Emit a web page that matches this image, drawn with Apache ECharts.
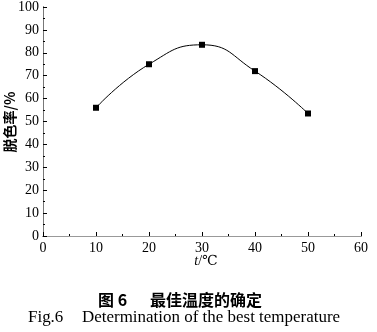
<!DOCTYPE html>
<html>
<head>
<meta charset="utf-8">
<script src="https://cdn.jsdelivr.net/npm/echarts@6/dist/echarts.min.js"></script>
<style>
html,body{margin:0;padding:0;background:#fff;}
#chart{width:377px;height:332px;}
</style>
</head>
<body>
<div id="chart"></div>
<script>
// Temperature (°C) and decolorization rate (%)
const temperatures = [10, 20, 30, 40, 50];
const decolorRates = [56, 75, 83.5, 72, 53.5];
const xTicks = [0, 10, 20, 30, 40, 50, 60];
const yTicks = [0, 10, 20, 30, 40, 50, 60, 70, 80, 90, 100];

const serif = '"Liberation Serif", "DejaVu Serif", serif';
const cjk = '"Noto Sans CJK SC", sans-serif';
const chart = echarts.init(document.getElementById('chart'));

const pts = temperatures.map((t, i) => [t, decolorRates[i]]);

chart.setOption({
  animation: false,
  grid: { left: 43, right: 16, top: 5, bottom: 96, containLabel: false },
  xAxis: [{
    type: 'value', min: xTicks[0], max: xTicks[xTicks.length - 1], interval: 10,
    axisLine: { show: true, onZero: false, lineStyle: { color: '#000', width: 1 } },
    axisTick: { show: true, inside: true, length: 4, lineStyle: { color: '#000' } },
    minorTick: { show: true, splitNumber: 2, length: 2, lineStyle: { color: '#000' } },
    axisLabel: { color: '#000', fontFamily: serif, fontSize: 14, margin: 5 },
    splitLine: { show: false }
  }, {
    type: 'value', position: 'top', min: 0, max: 60,
    axisLine: { show: true, lineStyle: { color: '#999', width: 1 } },
    axisTick: { show: false }, axisLabel: { show: false }, splitLine: { show: false }
  }],
  yAxis: [{
    type: 'value', min: yTicks[0], max: yTicks[yTicks.length - 1], interval: 10,
    axisLine: { show: true, onZero: false, lineStyle: { color: '#000', width: 1 } },
    axisTick: { show: true, inside: true, length: 4, lineStyle: { color: '#000' } },
    minorTick: { show: true, splitNumber: 2, length: 2, lineStyle: { color: '#000' } },
    axisLabel: { color: '#000', fontFamily: serif, fontSize: 14, margin: 4 },
    splitLine: { show: false }
  }, {
    type: 'value', position: 'right', min: 0, max: 100,
    axisLine: { show: true, lineStyle: { color: '#777', width: 1 } },
    axisTick: { show: false }, axisLabel: { show: false }, splitLine: { show: false }
  }],
  series: [{
    type: 'line',
    data: pts,
    smooth: 0.5,
    symbol: 'rect',
    symbolSize: 6,
    lineStyle: { color: '#000', width: 1 },
    itemStyle: { color: '#000' }
  }],
  graphic: [
    {
      type: 'text', x: 10, y: 122, rotation: Math.PI / 2,
      style: { text: '脱色率/%', fill: '#000', fontSize: 14, fontFamily: cjk,
        fontWeight: 'bold', align: 'center', verticalAlign: 'middle' }
    },
    {
      type: 'text', x: 206, y: 261,
      style: {
        rich: {
          it: { fontStyle: 'italic', fontFamily: serif, fontSize: 14, fill: '#000' },
          n: { fontFamily: serif, fontSize: 14, fill: '#000' }
        },
        text: '{it|t}{n|/℃}', align: 'center', verticalAlign: 'middle'
      }
    },
    {
      type: 'text', x: 98, y: 300,
      style: { text: '图 6', fill: '#000', fontSize: 16, fontFamily: cjk,
        fontWeight: 'bold', verticalAlign: 'middle' }
    },
    {
      type: 'text', x: 150, y: 300,
      style: { text: '最佳温度的确定', fill: '#000', fontSize: 16, fontFamily: cjk,
        fontWeight: 'bold', verticalAlign: 'middle' }
    },
    {
      type: 'text', x: 28, y: 318, scaleX: 1.06,
      style: { text: 'Fig.6', fill: '#000', fontSize: 16, fontFamily: serif, verticalAlign: 'middle' }
    },
    {
      type: 'text', x: 82, y: 318, scaleX: 1.06,
      style: { text: 'Determination of the best temperature', fill: '#000', fontSize: 16,
        fontFamily: serif, verticalAlign: 'middle' }
    }
  ]
});
</script>
</body>
</html>
